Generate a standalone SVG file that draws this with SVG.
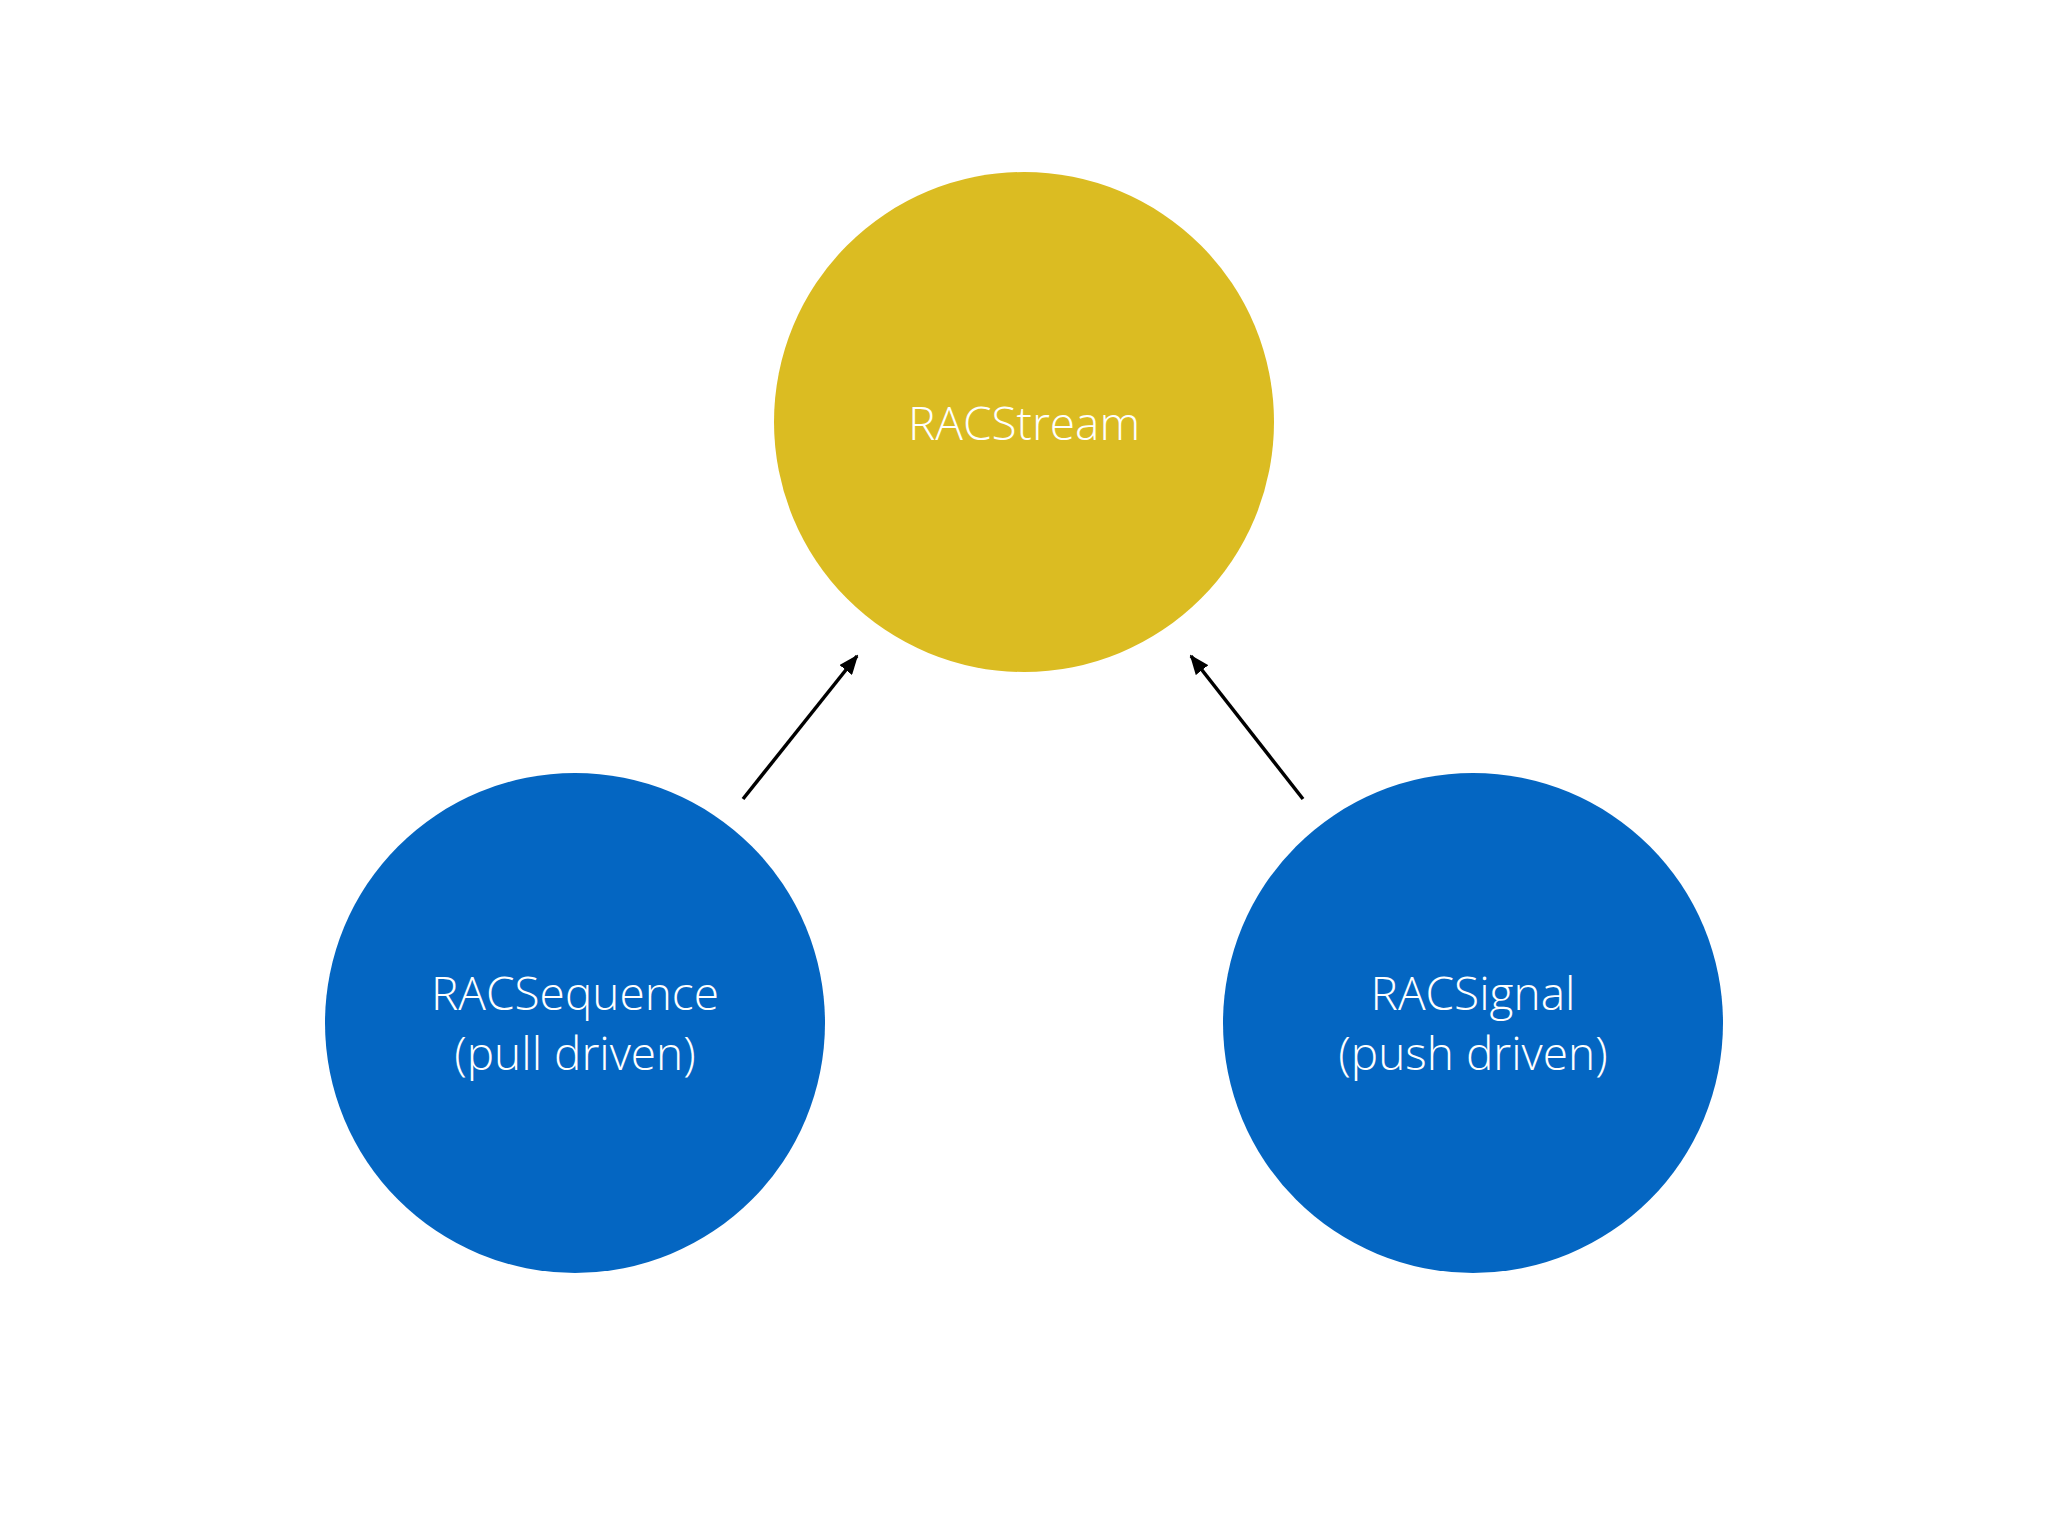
<svg xmlns="http://www.w3.org/2000/svg" width="2048" height="1536" viewBox="0 0 2048 1536">
<defs>
<style>
text{font-family:"Open Sans","Liberation Sans",sans-serif;font-weight:300;font-size:46px;fill:#fff;text-anchor:middle}
.c{stroke:#000;stroke-width:3.5;fill:none;marker-end:url(#a)}
</style>
<marker id="a" viewBox="0 0 10 10" refX="9" refY="5" markerWidth="20" markerHeight="16" orient="auto" markerUnits="userSpaceOnUse" preserveAspectRatio="none">
<path d="M0,0 L10,5 L0,10 z" fill="#000"/>
</marker>
</defs>
<rect width="2048" height="1536" fill="#fff"/>
<g id="stream"><circle cx="1024" cy="422" r="250" fill="#DBBC22"/><text x="1024" y="440">RACStream</text></g>
<g id="sequence"><circle cx="575" cy="1023" r="250" fill="#0466C2"/><text x="575" y="1010">RACSequence</text><text x="575" y="1070">(pull driven)</text></g>
<g id="signal"><circle cx="1473" cy="1023" r="250" fill="#0466C2"/><text x="1473" y="1010">RACSignal</text><text x="1473" y="1070">(push driven)</text></g>
<g id="connectors">
<line class="c" x1="743" y1="799" x2="857" y2="656"/>
<line class="c" x1="1303" y1="799" x2="1191" y2="656"/>
</g>
</svg>
